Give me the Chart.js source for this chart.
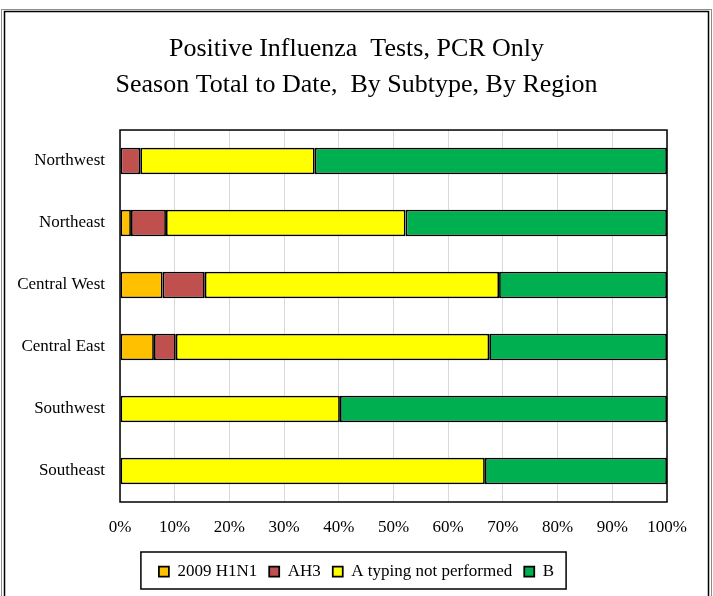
<!DOCTYPE html>
<html>
<head>
<meta charset="utf-8">
<script src="https://cdn.jsdelivr.net/npm/chart.js@4"></script>
<style>
    body { margin: 0; background: #ffffff; }
    #wrap { width: 713px; height: 596px; }
</style>
</head>
<body>
<div id="wrap"><canvas id="fluChart" width="713" height="596"></canvas></div>
<script>
// Regions and share of positive tests (%) per subtype
var regions = ['Northwest', 'Northeast', 'Central West', 'Central East', 'Southwest', 'Southeast'];
var h1n1 = [0, 2.0, 7.8, 6.2, 0, 0];
var ah3 = [3.7, 6.4, 7.7, 4.0, 0, 0];
var notTyped = [31.9, 43.8, 53.8, 57.3, 40.2, 66.7];
var typeB = [64.4, 47.8, 30.7, 32.5, 59.8, 33.3];
var xTicks = [0, 10, 20, 30, 40, 50, 60, 70, 80, 90, 100];

var serif = 'Liberation Serif';

// Frame round the picture, plot area border and legend box
var framePlugin = {
    id: 'frame',
    beforeDraw: function (chart) {
        // centre title and legend on the whole canvas, not just the padded box
        var lg = chart.legend;
        if (lg) {
            lg.left = 0;
            lg.right = chart.width;
        }
        var tb = chart.titleBlock;
        if (tb) {
            tb.left = 0;
            tb.right = chart.width;
        }
    },
    afterDatasetsDraw: function (chart) {
        var ctx = chart.ctx;
        var a = chart.chartArea;
        ctx.save();
        ctx.strokeStyle = '#000000';
        ctx.lineWidth = 1.5;
        ctx.strokeRect(a.left, a.top, a.right - a.left, a.bottom - a.top);
        ctx.restore();
    },
    afterDraw: function (chart) {
        var ctx = chart.ctx;
        ctx.save();
        // double outer frame
        ctx.strokeStyle = '#8c8c8c';
        ctx.lineWidth = 1;
        ctx.strokeRect(1.5, 9.5, chart.width - 3, chart.height + 20);
        ctx.strokeStyle = '#000000';
        ctx.lineWidth = 1.5;
        ctx.strokeRect(4.5, 11.5, chart.width - 9, chart.height + 20);

        // legend box
        var lg = chart.legend;
        if (lg && lg.lineWidths) {
            var pad = lg.options.labels.padding;
            var w = lg.lineWidths[0];
            var start = (lg.left + lg.right + pad - w) / 2;
            var end = start + w - pad;
            ctx.lineWidth = 1.5;
            ctx.strokeRect(start - 18, lg.top + 1, (end - start) + 30, lg.height - 2);
        }
        ctx.restore();
    }
};

var ctx = document.getElementById('fluChart').getContext('2d');
new Chart(ctx, {
    type: 'bar',
    data: {
        labels: regions,
        datasets: [
            {label: '2009 H1N1', data: h1n1, backgroundColor: '#FFC000'},
            {label: 'AH3', data: ah3, backgroundColor: '#C0504D'},
            {label: 'A typing not performed', data: notTyped, backgroundColor: '#FFFF00'},
            {label: 'B', data: typeB, backgroundColor: '#00B050'}
        ].map(function (ds) {
            ds.borderColor = '#000000';
            ds.borderWidth = 1.75;
            ds.borderSkipped = false;
            ds.categoryPercentage = 1;
            ds.barPercentage = 0.43;
            return ds;
        })
    },
    options: {
        indexAxis: 'y',
        responsive: false,
        animation: false,
        layout: {
            padding: {top: 0, left: 0, right: 46, bottom: 6}
        },
        plugins: {
            title: {
                display: true,
                text: ['Positive Influenza  Tests, PCR Only', 'Season Total to Date,  By Subtype, By Region'],
                color: '#000000',
                font: {family: serif, size: 26, weight: 'normal', lineHeight: 1.385},
                padding: {top: 31, bottom: 27}
            },
            legend: {
                position: 'bottom',
                align: 'center',
                labels: {
                    color: '#000000',
                    font: {family: serif, size: 17},
                    boxWidth: 10,
                    boxHeight: 10,
                    padding: 12
                }
            },
            tooltip: {enabled: false}
        },
        scales: {
            x: {
                stacked: true,
                min: 0,
                max: 100,
                afterBuildTicks: function (scale) {
                    scale.ticks = xTicks.map(function (v) { return {value: v}; });
                },
                afterFit: function (scale) { scale.height = 49; },
                grid: {color: '#d9d9d9', lineWidth: 1, drawTicks: false},
                border: {display: false},
                ticks: {
                    color: '#000000',
                    font: {family: serif, size: 17},
                    padding: 15,
                    maxRotation: 0,
                    callback: function (v) { return v + '%'; }
                }
            },
            y: {
                stacked: true,
                afterFit: function (scale) { scale.width = 120; },
                grid: {display: false, drawTicks: false},
                border: {display: false},
                ticks: {
                    color: '#000000',
                    font: {family: serif, size: 17},
                    padding: 15
                }
            }
        }
    },
    plugins: [framePlugin]
});
</script>
</body>
</html>
